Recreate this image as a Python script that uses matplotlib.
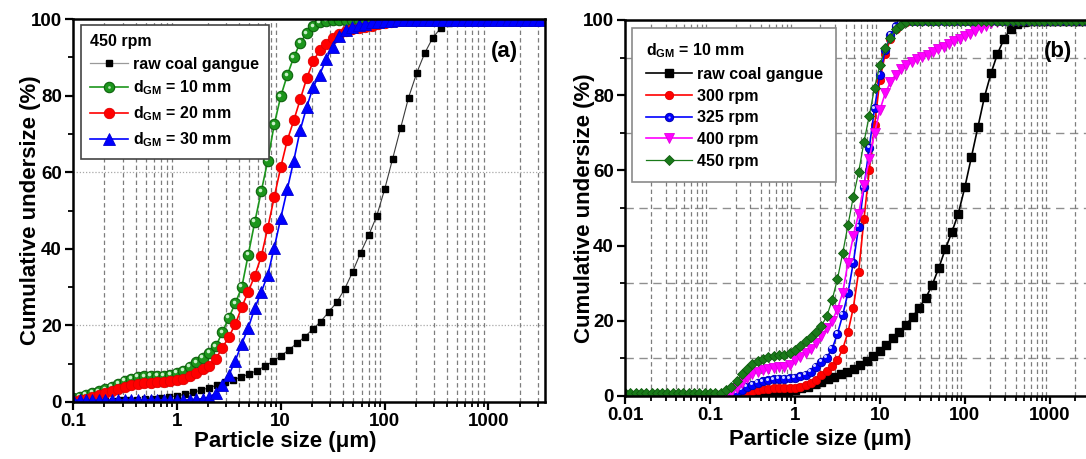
import matplotlib
matplotlib.use("Agg")
import matplotlib.pyplot as plt
from matplotlib import transforms
from matplotlib.lines import Line2D
from matplotlib.legend_handler import HandlerTuple
from matplotlib.ticker import FixedLocator, FixedFormatter, LogLocator, NullFormatter

# ---------------------------------------------------------------- data
# size classes of the laser-diffraction runs (16 per decade), um
SIZES_FINE = [
    0.01000, 0.01155, 0.01334, 0.01540, 0.01778, 0.02054, 0.02371, 0.02738,
    0.03162, 0.03652, 0.04217, 0.04870, 0.05623, 0.06494, 0.07499, 0.08660,
    0.1000, 0.1155, 0.1334, 0.1540, 0.1778, 0.2054, 0.2371, 0.2738,
    0.3162, 0.3652, 0.4217, 0.4870, 0.5623, 0.6494, 0.7499, 0.8660,
    1.000, 1.155, 1.334, 1.540, 1.778, 2.054, 2.371, 2.738,
    3.162, 3.652, 4.217, 4.870, 5.623, 6.494, 7.499, 8.660,
    10.00, 11.55, 13.34, 15.40, 17.78, 20.54, 23.71, 27.38,
    31.62, 36.52, 42.17, 48.70, 56.23, 64.94, 74.99, 86.60,
    100.0, 115.5, 133.4, 154.0, 177.8, 205.4, 237.1, 273.8,
    316.2, 365.2, 421.7, 487.0, 562.3, 649.4, 749.9, 866.0,
    1000, 1155, 1334, 1540, 1778, 2054, 2371, 2738, 3162,
]

# size classes of the raw coal gangue run (13 per decade), um
SIZES_RAW = [
    0.01000, 0.01194, 0.01425, 0.01701, 0.02031, 0.02424, 0.02894,
    0.03455, 0.04125, 0.04924, 0.05878, 0.07017, 0.08377,
    0.1000, 0.1194, 0.1425, 0.1701, 0.2031, 0.2424, 0.2894,
    0.3455, 0.4125, 0.4924, 0.5878, 0.7017, 0.8377,
    1.000, 1.194, 1.425, 1.701, 2.031, 2.424, 2.894,
    3.455, 4.125, 4.924, 5.878, 7.017, 8.377,
    10.00, 11.94, 14.25, 17.01, 20.31, 24.24, 28.94,
    34.55, 41.25, 49.24, 58.78, 70.17, 83.77,
    100.0, 119.4, 142.5, 170.1, 203.1, 242.4, 289.4,
    345.5, 412.5, 492.4, 587.8, 701.7, 837.7,
    1000, 1194, 1425, 1701, 2031, 2424, 2894, 3455,
]

RAW_COAL_GANGUE = [
    0, 0, 0, 0, 0, 0, 0, 0, 0, 0, 0, 0, 0,
    0.1, 0.15, 0.2, 0.25, 0.3, 0.35, 0.4, 0.5, 0.6, 0.7, 0.9, 1.1, 1.3,
    1.6, 2.0, 2.5, 3.1, 3.7, 4.4, 5.1, 5.8, 6.5, 7.3, 8.2, 9.3, 10.6,
    12.0, 13.6, 15.3, 17.0, 19.0, 21.0, 23.5, 26.0, 29.5, 34.0, 39.0, 43.5,
    48.5, 55.5, 63.5, 71.5, 79.5, 85.8, 91.0, 95.0, 97.6, 99.0, 99.6,
    99.8, 99.8, 99.8, 99.8, 99.8, 99.8, 99.8, 99.8, 99.8, 99.8, 99.8,
]

# (a) 450 rpm, grinding media diameter 10 / 20 / 30 mm  (sizes from 0.1 um)
D10_450RPM = [
    1.0, 1.4, 1.9, 2.4, 2.8, 3.3, 4.0, 4.8, 5.5, 6.1,
    6.5, 6.7, 6.8, 6.8, 6.9, 7.1, 7.6, 8.2, 9.2, 10.4,
    11.6, 12.8, 14.5, 18.2, 22.0, 25.8, 30.0, 38.5, 47.0, 55.0,
    63.0, 72.5, 79.8, 85.3, 90.0, 93.8, 96.3, 98.1, 99.1, 99.6,
    99.8, 99.8, 99.8, 99.8, 99.8, 99.8, 99.8, 99.8, 99.8, 99.8, 99.8,
    99.8, 99.8, 99.8, 99.8, 99.8, 99.8, 99.8, 99.8, 99.8, 99.8, 99.8,
    99.8, 99.8, 99.8, 99.8, 99.8, 99.8, 99.8, 99.8, 99.8, 99.8, 99.8,
]
D20_450RPM = [
    0.3, 0.5, 0.8, 1.2, 1.7, 2.3, 2.9, 3.5, 4.0, 4.4,
    4.7, 4.9, 5.0, 5.1, 5.2, 5.4, 5.7, 6.1, 6.8, 7.6,
    8.5, 9.5, 11.3, 14.1, 17.0, 20.3, 24.8, 28.8, 33.0, 38.0,
    45.5, 53.5, 61.3, 68.3, 73.5, 79.0, 84.5, 89.0, 91.8, 93.6,
    95.0, 96.1, 96.8, 97.3, 97.7, 98.0, 98.3, 98.6, 98.9, 99.2, 99.5,
    99.8, 99.8, 99.8, 99.8, 99.8, 99.8, 99.8, 99.8, 99.8, 99.8, 99.8,
    99.8, 99.8, 99.8, 99.8, 99.8, 99.8, 99.8, 99.8, 99.8, 99.8, 99.8,
]
D30_450RPM = [
    0.4, 0.5, 0.5, 0.5, 0.5, 0.5, 0.5, 0.5, 0.5, 0.5,
    0.5, 0.5, 0.5, 0.5, 0.5, 0.5, 0.5, 0.5, 0.6, 0.7,
    0.9, 1.3, 2.3, 4.4, 7.0, 10.8, 15.2, 19.4, 24.5, 28.7,
    33.2, 40.3, 48.0, 55.5, 63.0, 71.0, 77.0, 82.3, 85.5, 89.5,
    92.8, 95.6, 97.1, 98.0, 98.5, 98.8, 99.1, 99.3, 99.5, 99.6, 99.7,
    99.8, 99.8, 99.8, 99.8, 99.8, 99.8, 99.8, 99.8, 99.8, 99.8, 99.8,
    99.8, 99.8, 99.8, 99.8, 99.8, 99.8, 99.8, 99.8, 99.8, 99.8, 99.8,
]

# (b) 10 mm grinding media, rotation speed 300 / 325 / 400 / 450 rpm
RPM300 = [
    0, 0, 0, 0, 0, 0, 0, 0, 0, 0, 0, 0, 0, 0, 0, 0, 0, 0, 0, 0, 0,
    0.3, 0.7, 1.1, 1.4, 1.6, 1.8, 1.9, 2.0, 2.0, 2.1, 2.1,
    2.2, 2.4, 2.8, 3.4, 4.3, 5.5, 6.6, 7.9, 9.5, 12.5, 17.0,
    23.5, 33.0, 47.0, 60.0, 72.0, 84.0, 91.0, 95.0, 97.5, 99.0, 99.6,
    99.8, 99.8, 99.8, 99.8, 99.8, 99.8, 99.8, 99.8, 99.8, 99.8, 99.8, 99.8,
    99.8, 99.8, 99.8, 99.8, 99.8, 99.8, 99.8, 99.8, 99.8, 99.8, 99.8, 99.8,
    99.8, 99.8, 99.8, 99.8, 99.8, 99.8, 99.8, 99.8, 99.8, 99.8, 99.8,
]
RPM325 = [
    0, 0, 0, 0, 0, 0, 0, 0, 0, 0, 0, 0, 0, 0, 0, 0, 0, 0, 0, 0,
    0.3, 0.9, 1.7, 2.4, 3.0, 3.5, 3.9, 4.2, 4.4, 4.5, 4.6, 4.7,
    4.9, 5.2, 5.7, 6.5, 7.8, 9.0, 10.2, 12.5, 16.5, 21.5, 27.5,
    35.5, 45.0, 55.5, 66.0, 76.5, 85.5, 92.0, 96.0, 98.3, 99.3,
    99.8, 99.8, 99.8, 99.8, 99.8, 99.8, 99.8, 99.8, 99.8, 99.8, 99.8, 99.8,
    99.8, 99.8, 99.8, 99.8, 99.8, 99.8, 99.8, 99.8, 99.8, 99.8, 99.8, 99.8,
    99.8, 99.8, 99.8, 99.8, 99.8, 99.8, 99.8, 99.8, 99.8, 99.8, 99.8, 99.8,
]
RPM400 = [
    0, 0, 0, 0, 0, 0, 0, 0, 0, 0, 0, 0, 0, 0, 0, 0, 0, 0, 0, 0,
    0.8, 2.0, 3.5, 4.8, 5.8, 6.5, 7.0, 7.3, 7.5, 7.6, 7.8, 8.2,
    9.5, 10.5, 11.5, 12.5, 14.0, 16.0, 18.0, 20.0, 23.0, 27.5, 35.5,
    42.5, 48.5, 56.0, 63.0, 70.0, 76.0, 80.5, 83.5, 85.5, 87.0, 88.0,
    88.8, 89.5, 90.2, 90.8, 91.5, 92.2, 92.9, 93.6, 94.3, 95.0, 95.7,
    96.4, 97.1, 97.8, 98.5, 99.1, 99.5,
    99.8, 99.8, 99.8, 99.8, 99.8, 99.8, 99.8, 99.8, 99.8,
    99.8, 99.8, 99.8, 99.8, 99.8, 99.8, 99.8, 99.8, 99.8,
]
RPM450 = [
    0.8, 0.8, 0.8, 0.8, 0.8, 0.8, 0.8, 0.8, 0.8, 0.8,
    0.8, 0.8, 0.8, 0.8, 0.8, 0.8, 0.8, 0.8, 0.8,
    1.5, 2.5, 4.0, 5.8, 7.3, 8.4, 9.3, 9.9, 10.3, 10.6, 10.8, 11.0, 11.4,
    12.2, 13.2, 14.5, 15.8, 17.0, 18.7, 21.2, 25.5, 31.0, 38.0, 45.5,
    53.0, 59.5, 67.5, 74.5, 82.0, 88.0, 92.5, 95.3, 97.5, 98.8, 99.5,
    99.8, 99.8, 99.8, 99.8, 99.8, 99.8, 99.8, 99.8, 99.8, 99.8, 99.8, 99.8,
    99.8, 99.8, 99.8, 99.8, 99.8, 99.8, 99.8, 99.8, 99.8, 99.8, 99.8, 99.8,
    99.8, 99.8, 99.8, 99.8, 99.8, 99.8, 99.8, 99.8, 99.8, 99.8, 99.8,
]

XTICKS_A = [0.1, 1, 10, 100, 1000]
XTICKLABELS_A = ["0.1", "1", "10", "100", "1000"]
XTICKS_B = [0.01, 0.1, 1, 10, 100, 1000]
XTICKLABELS_B = ["0.01", "0.1", "1", "10", "100", "1000"]
YTICKS = [0, 20, 40, 60, 80, 100]
YTICKS_MINOR = [10, 30, 50, 70, 90]

LEGEND_A = ["raw coal gangue", r"$\mathrm{d}_{\mathrm{GM}}$ = 10 mm",
            r"$\mathrm{d}_{\mathrm{GM}}$ = 20 mm", r"$\mathrm{d}_{\mathrm{GM}}$ = 30 mm"]
LEGEND_B = ["raw coal gangue", "300 rpm", "325 rpm", "400 rpm", "450 rpm"]

# ---------------------------------------------------------------- style
plt.rcParams["font.family"] = ["Liberation Sans", "DejaVu Sans"]
plt.rcParams["font.weight"] = "bold"
plt.rcParams["axes.labelweight"] = "bold"
plt.rcParams["mathtext.fontset"] = "custom"
plt.rcParams["mathtext.rm"] = "Liberation Sans:bold"
plt.rcParams["mathtext.bf"] = "Liberation Sans:bold"
plt.rcParams["mathtext.it"] = "Liberation Sans:bold"

W, H = 1086, 459
fig = plt.figure(figsize=(W / 100, H / 100), dpi=100)
fig.patch.set_facecolor("white")

ax_a = fig.add_axes([73 / W, 57 / H, 472 / W, 383 / H])
ax_b = fig.add_axes([625 / W, 63 / H, 471 / W, 376 / H])


def style_axes(ax, xlim, xticks, xticklabels):
    ax.set_xscale("log")
    ax.set_xlim(*xlim)
    ax.set_ylim(0, 100)
    ax.xaxis.set_major_locator(FixedLocator(xticks))
    ax.xaxis.set_major_formatter(FixedFormatter(xticklabels))
    ax.xaxis.set_minor_locator(LogLocator(base=10, subs=range(2, 10), numticks=60))
    ax.xaxis.set_minor_formatter(NullFormatter())
    ax.yaxis.set_major_locator(FixedLocator(YTICKS))
    ax.yaxis.set_minor_locator(FixedLocator(YTICKS_MINOR))
    ax.tick_params(which="major", direction="out", length=6, width=1.6,
                   labelsize=13.5, pad=2)
    ax.tick_params(which="minor", direction="out", length=3.5, width=1.3)
    for s in ax.spines.values():
        s.set_linewidth(1.8)
    ax.grid(True, which="minor", axis="x", linestyle=(0, (3.5, 2.5)),
            color="#7d7d7d", linewidth=0.9)
    ax.set_axisbelow(True)
    ax.set_xlabel("Particle size (\u03bcm)", fontsize=16)
    ax.set_ylabel("Cumulative undersize (%)", fontsize=16)
    ax.xaxis.label.set_va("center")
    ax.yaxis.label.set_va("center")


def sphere_glint(ax, x, y, ms, color, z):
    """Small light spot on each marker to give the shaded-ball look."""
    tr = transforms.offset_copy(ax.transData, fig=fig, x=-1.2, y=1.2, units="points")
    ax.plot(x, y, ls="none", marker="o", ms=ms, color=color, mec="none",
            transform=tr, zorder=z)
    return Line2D([], [], ls="none", marker="o", ms=ms * 0.75, color=color,
                  mec="none", alpha=0.85)


style_axes(ax_a, (0.1, 3500), XTICKS_A, XTICKLABELS_A)
style_axes(ax_b, (0.01, 3500), XTICKS_B, XTICKLABELS_B)

# ---------------------------------------------------------------- panel (a)
for yv in (20, 60):
    ax_a.axhline(yv, ls=(0, (1, 1.5)), color="#a8a8a8", lw=0.9, zorder=0.5)

sizes_a = SIZES_FINE[16:]
h_raw_a, = ax_a.plot(SIZES_RAW, RAW_COAL_GANGUE, color="#3a3a3a", lw=0.8,
                     marker="s", ms=5, mfc="black", mec="black", zorder=2.0)
h_g, = ax_a.plot(sizes_a, D10_450RPM, color="#1c961c", lw=1.2, marker="o",
                 ms=7.5, mfc="#1c961c", mec="#0d620d", mew=0.8, zorder=2.1)
glint_g = sphere_glint(ax_a, sizes_a, D10_450RPM, 2.6, "#c9f0c9", 2.15)
h_r, = ax_a.plot(sizes_a, D20_450RPM, color="#ff0000", lw=1.2, marker="o",
                 ms=7.5, mfc="#ff0000", mec="#e00000", mew=0.6, zorder=2.2)
h_bl, = ax_a.plot(sizes_a, D30_450RPM, color="#0000ff", lw=1.2, marker="^",
                  ms=8, mfc="#0000ff", mec="#0000d0", mew=0.6, zorder=2.3)

raw_leg_a = Line2D([], [], color="#9a9a9a", lw=0.9, marker="s", ms=5,
                   mfc="black", mec="black")
leg_a = ax_a.legend([raw_leg_a, (h_g, glint_g), h_r, h_bl], LEGEND_A,
                    handler_map={tuple: HandlerTuple(ndivide=1, pad=0)},
                    title="450 rpm", title_fontproperties={"weight": "bold", "size": 11.5},
                    loc="upper left", bbox_to_anchor=(0.016, 0.985), borderaxespad=0,
                    fontsize=11.5, frameon=True, fancybox=False, framealpha=1,
                    edgecolor="#444444", numpoints=1, handlelength=2.4,
                    handletextpad=0.3, labelspacing=0.45, borderpad=0.6,
                    alignment="left")
leg_a.get_frame().set_linewidth(1.2)
leg_a.set_zorder(5)

ax_a.text(0.915, 0.914, "(a)", transform=ax_a.transAxes, fontsize=16,
          ha="center", va="center", zorder=6)

# ---------------------------------------------------------------- panel (b)
for yv in YTICKS_MINOR:
    ax_b.axhline(yv, ls=(0, (6, 4)), color="#8f8f8f", lw=1.0, zorder=0.5)

h_raw_b, = ax_b.plot(SIZES_RAW, RAW_COAL_GANGUE, color="black", lw=1.2,
                     marker="s", ms=5.5, mfc="black", mec="black", zorder=2.0)
h_300, = ax_b.plot(SIZES_FINE, RPM300, color="#ff0000", lw=1.2, marker="o",
                   ms=6, mfc="#ff0000", mec="#e00000", mew=0.6, zorder=2.1)
h_325, = ax_b.plot(SIZES_FINE, RPM325, color="#0000ff", lw=1.2, marker="o",
                   ms=6, mfc="#0000ff", mec="#0000b0", mew=0.7, zorder=2.2)
glint_b = sphere_glint(ax_b, SIZES_FINE, RPM325, 2.2, "#d0d0ff", 2.25)
h_400, = ax_b.plot(SIZES_FINE, RPM400, color="#ff00ff", lw=1.2, marker="v",
                   ms=7, mfc="#ff00ff", mec="#e000e0", mew=0.6, zorder=2.3)
h_450, = ax_b.plot(SIZES_FINE, RPM450, color="#1a7a1a", lw=0.9, marker="D",
                   ms=5.5, mfc="#1a7a1a", mec="#0f5a0f", mew=0.6, zorder=2.4)

leg_b = ax_b.legend([h_raw_b, h_300, (h_325, glint_b), h_400, h_450], LEGEND_B,
                    handler_map={tuple: HandlerTuple(ndivide=1, pad=0)},
                    title=r"$\mathrm{d}_{\mathrm{GM}}$ = 10 mm",
                    title_fontproperties={"weight": "bold", "size": 11.5},
                    loc="upper left", bbox_to_anchor=(0.015, 0.979), borderaxespad=0,
                    fontsize=11.5, frameon=True, fancybox=False, framealpha=1,
                    edgecolor="#8a8a8a", numpoints=1, handlelength=2.9,
                    handletextpad=0.3, labelspacing=0.42, borderpad=0.85,
                    alignment="left")
leg_b.get_frame().set_linewidth(1.2)
leg_b.set_zorder(5)

ax_b.text(0.919, 0.915, "(b)", transform=ax_b.transAxes, fontsize=16,
          ha="center", va="center", zorder=6)

# ---------------------------------------------------------------- labels
ax_a.xaxis.set_label_coords(0.449, -0.102)
ax_a.yaxis.set_label_coords(-0.091, 0.5)
ax_b.xaxis.set_label_coords(0.414, -0.117)
ax_b.yaxis.set_label_coords(-0.087, 0.5)

fig.savefig("out.png", dpi=100, facecolor="white")
